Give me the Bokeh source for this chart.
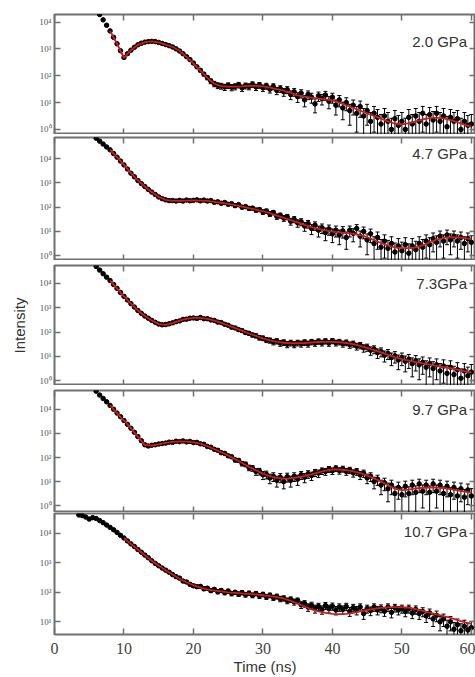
import math
from bokeh.plotting import figure
from bokeh.models import Range1d, FixedTicker, Label, LinearAxis, LogAxis, ColumnDataSource
from bokeh.layouts import column
from bokeh.embed import file_html
from bokeh.resources import INLINE

# ---------------- data (log10 intensity) ----------------
T = [3.5, 4.0, 4.5, 5.0, 5.5,
     6.0, 6.5, 7.0, 7.5, 8.0, 8.5, 9.0, 9.5, 10.0, 10.5,
     11.0, 11.5, 12.0, 12.5, 13.0, 13.5, 14.0, 14.5, 15.0, 15.5,
     16.0, 16.5, 17.0, 17.5, 18.0, 18.5, 19.0, 19.5, 20.0, 20.5,
     21.0, 21.5, 22.0, 22.5, 23.0, 23.5, 24.0, 24.5, 25.0, 25.5,
     26.0, 26.5, 27.0, 27.5, 28.0, 28.5, 29.0, 29.5, 30.0, 30.5,
     31.0, 31.5, 32.0, 32.5, 33.0, 33.5, 34.0, 34.5, 35.0, 35.5,
     36.0, 36.5, 37.0, 37.5, 38.0, 38.5, 39.0, 39.5, 40.0, 40.5,
     41.0, 41.5, 42.0, 42.5, 43.0, 43.5, 44.0, 44.5, 45.0, 45.5,
     46.0, 46.5, 47.0, 47.5, 48.0, 48.5, 49.0, 49.5, 50.0, 50.5,
     51.0, 51.5, 52.0, 52.5, 53.0, 53.5, 54.0, 54.5, 55.0, 55.5,
     56.0, 56.5, 57.0, 57.5, 58.0, 58.5, 59.0, 59.5, 60.0]

FIT_T = [8, 9, 10, 11, 12, 13, 14, 15, 16, 17,
         18, 19, 20, 21, 22, 23, 24, 25, 26, 27,
         28, 29, 30, 31, 32, 33, 34, 35, 36, 37,
         38, 39, 40, 41, 42, 43, 44, 45, 46, 47,
         48, 49, 50, 51, 52, 53, 54, 55, 56, 57,
         58, 59, 60]

LABELS = ["2.0 GPa", "4.7 GPa", "7.3GPa", "9.7 GPa", "10.7 GPa"]

DATA_1 = [4.45, 4.28, 4.08, 3.88, 3.67, 3.43, 3.19, 2.93, 2.68, 2.82,
          2.95, 3.06, 3.15, 3.21, 3.25, 3.27, 3.28, 3.27, 3.24, 3.2,
          3.16, 3.12, 3.07, 3.0, 2.92, 2.82, 2.71, 2.6, 2.47, 2.33,
          2.2, 2.06, 1.93, 1.8, 1.7, 1.64, 1.62, 1.58, 1.64, 1.57,
          1.6, 1.66, 1.55, 1.63, 1.6, 1.68, 1.58, 1.65, 1.55, 1.62,
          1.5, 1.6, 1.45, 1.52, 1.4, 1.48, 1.3, 1.4, 1.22, 1.35,
          1.1, 1.3, 1.2, 0.95, 1.25, 1.15, 1.28, 1.05, 1.2, 0.9,
          1.1, 0.8, 1.0, 0.7, 0.9, 0.6, 0.85, 0.5, 0.7, 0.3,
          0.6, 0.45, 0.2, 0.5, 0.3, 0.0, 0.4, 0.15, 0.3, 0.0,
          0.45, 0.2, 0.5, 0.3, 0.6, 0.2, 0.55, 0.35, 0.6, 0.3,
          0.5, 0.1, 0.45, 0.3, 0.4, 0.0, 0.3, 0.15, 0.2]
FIT_1 = [3.67, 3.19, 2.66, 2.95, 3.15, 3.25, 3.28, 3.24, 3.16, 3.07,
         2.93, 2.7, 2.46, 2.19, 1.92, 1.7, 1.61, 1.59, 1.59, 1.6,
         1.62, 1.62, 1.6, 1.56, 1.5, 1.44, 1.36, 1.27, 1.22, 1.18,
         1.15, 1.12, 1.08, 1.0, 0.9, 0.8, 0.7, 0.6, 0.5, 0.4,
         0.3, 0.22, 0.19, 0.23, 0.3, 0.37, 0.42, 0.44, 0.41, 0.35,
         0.27, 0.18, 0.1]

DATA_2 = [4.84, 4.72, 4.6, 4.48, 4.36, 4.21, 4.06, 3.9, 3.74, 3.57,
          3.4, 3.25, 3.1, 2.97, 2.85, 2.73, 2.62, 2.52, 2.42, 2.35,
          2.3, 2.27, 2.27, 2.25, 2.28, 2.25, 2.29, 2.26, 2.28, 2.3,
          2.26, 2.29, 2.25, 2.27, 2.2, 2.22, 2.16, 2.19, 2.12, 2.14,
          2.06, 2.1, 2.0, 2.02, 1.95, 1.96, 1.88, 1.9, 1.8, 1.84,
          1.72, 1.78, 1.62, 1.66, 1.55, 1.6, 1.42, 1.5, 1.35, 1.4,
          1.22, 1.32, 1.12, 1.25, 1.05, 1.15, 0.95, 1.1, 0.9, 1.05,
          0.85, 1.02, 0.75, 1.05, 0.92, 1.12, 0.8, 1.0, 0.65, 0.9,
          0.5, 0.75, 0.35, 0.6, 0.3, 0.5, 0.15, 0.4, 0.2, 0.45,
          0.1, 0.4, 0.25, 0.5, 0.35, 0.6, 0.45, 0.7, 0.55, 0.8,
          0.6, 0.85, 0.65, 0.8, 0.6, 0.75, 0.5, 0.7, 0.55]
FIT_2 = [4.36, 4.06, 3.74, 3.4, 3.1, 2.85, 2.62, 2.42, 2.3, 2.26,
         2.26, 2.27, 2.28, 2.27, 2.26, 2.22, 2.18, 2.13, 2.08, 2.02,
         1.96, 1.9, 1.83, 1.75, 1.65, 1.56, 1.46, 1.37, 1.27, 1.18,
         1.1, 1.04, 0.99, 0.96, 0.93, 0.9, 0.85, 0.76, 0.64, 0.52,
         0.41, 0.34, 0.31, 0.31, 0.34, 0.42, 0.55, 0.66, 0.73, 0.76,
         0.75, 0.72, 0.68]

DATA_3 = [4.7, 4.55, 4.4, 4.26, 4.12, 3.96, 3.8, 3.63, 3.47, 3.32,
          3.17, 3.03, 2.89, 2.77, 2.66, 2.57, 2.48, 2.4, 2.33, 2.3,
          2.31, 2.34, 2.38, 2.43, 2.46, 2.52, 2.53, 2.57, 2.58, 2.56,
          2.6, 2.55, 2.55, 2.5, 2.48, 2.41, 2.39, 2.32, 2.28, 2.2,
          2.17, 2.1, 2.06, 1.98, 1.95, 1.88, 1.85, 1.77, 1.75, 1.68,
          1.66, 1.6, 1.63, 1.55, 1.58, 1.5, 1.56, 1.5, 1.56, 1.52,
          1.58, 1.52, 1.6, 1.55, 1.62, 1.56, 1.63, 1.55, 1.64, 1.56,
          1.6, 1.52, 1.57, 1.48, 1.52, 1.42, 1.46, 1.35, 1.38, 1.25,
          1.3, 1.15, 1.2, 1.05, 1.12, 0.95, 1.02, 0.85, 0.95, 0.8,
          0.88, 0.7, 0.82, 0.65, 0.75, 0.55, 0.7, 0.5, 0.65, 0.4,
          0.6, 0.3, 0.55, 0.25, 0.45, 0.1, 0.4, 0.2, 0.35]
FIT_3 = [4.12, 3.8, 3.47, 3.17, 2.89, 2.66, 2.48, 2.33, 2.3, 2.37,
         2.47, 2.54, 2.58, 2.58, 2.54, 2.47, 2.38, 2.27, 2.16, 2.05,
         1.94, 1.84, 1.74, 1.66, 1.6, 1.56, 1.54, 1.54, 1.55, 1.57,
         1.59, 1.6, 1.6, 1.58, 1.55, 1.5, 1.43, 1.35, 1.26, 1.16,
         1.06, 0.97, 0.89, 0.82, 0.76, 0.71, 0.66, 0.61, 0.56, 0.51,
         0.45, 0.39, 0.33]

DATA_4 = [4.76, 4.6, 4.46, 4.32, 4.17, 4.01, 3.85, 3.7, 3.54, 3.38,
          3.22, 3.05, 2.87, 2.7, 2.53, 2.48, 2.51, 2.53, 2.56, 2.58,
          2.6, 2.64, 2.63, 2.68, 2.66, 2.69, 2.65, 2.67, 2.62, 2.63,
          2.57, 2.55, 2.46, 2.43, 2.34, 2.3, 2.2, 2.17, 2.07, 2.03,
          1.9, 1.88, 1.75, 1.72, 1.58, 1.56, 1.42, 1.43, 1.28, 1.3,
          1.15, 1.22, 1.05, 1.18, 1.0, 1.2, 1.05, 1.22, 1.1, 1.28,
          1.18, 1.32, 1.25, 1.38, 1.35, 1.45, 1.42, 1.52, 1.45, 1.55,
          1.46, 1.53, 1.42, 1.48, 1.36, 1.42, 1.28, 1.35, 1.15, 1.22,
          1.0, 1.1, 0.85, 0.95, 0.7, 0.85, 0.5, 0.75, 0.45, 0.8,
          0.5, 0.85, 0.55, 0.9, 0.6, 0.85, 0.55, 0.9, 0.6, 0.85,
          0.5, 0.8, 0.45, 0.75, 0.4, 0.7, 0.35, 0.65, 0.4]
FIT_4 = [4.17, 3.85, 3.54, 3.22, 2.87, 2.52, 2.5, 2.55, 2.61, 2.65,
         2.67, 2.66, 2.63, 2.58, 2.47, 2.35, 2.22, 2.09, 1.93, 1.77,
         1.61, 1.47, 1.33, 1.22, 1.15, 1.12, 1.13, 1.17, 1.23, 1.3,
         1.38, 1.45, 1.5, 1.5, 1.47, 1.42, 1.35, 1.25, 1.13, 1.0,
         0.85, 0.7, 0.64, 0.66, 0.71, 0.74, 0.75, 0.75, 0.73, 0.68,
         0.63, 0.58, 0.54]

DATA_5 = [4.62, 4.6, 4.55, 4.48, 4.53,
          4.5, 4.43, 4.36, 4.28, 4.2, 4.12, 4.03, 3.93, 3.84, 3.74,
          3.64, 3.55, 3.45, 3.36, 3.26, 3.17, 3.07, 2.98, 2.9, 2.82,
          2.75, 2.68, 2.6, 2.53, 2.48, 2.38, 2.35, 2.27, 2.22, 2.19,
          2.2, 2.12, 2.14, 2.06, 2.1, 2.02, 2.06, 1.99, 2.04, 1.96,
          2.0, 1.94, 1.99, 1.92, 1.97, 1.9, 1.96, 1.88, 1.93, 1.85,
          1.9, 1.82, 1.86, 1.78, 1.8, 1.72, 1.76, 1.68, 1.72, 1.58,
          1.62, 1.5, 1.56, 1.45, 1.52, 1.42, 1.55, 1.45, 1.53, 1.4,
          1.5, 1.42, 1.52, 1.36, 1.48, 1.4, 1.5, 1.28, 1.45, 1.38,
          1.5, 1.4, 1.46, 1.36, 1.5, 1.32, 1.48, 1.4, 1.45, 1.35,
          1.45, 1.3, 1.42, 1.28, 1.35, 1.2, 1.3, 1.1, 1.22, 1.0,
          1.1, 0.85, 1.0, 0.75, 0.9, 0.7, 0.85, 0.72, 0.8]
FIT_5 = [3.83, 3.64, 3.45, 3.26, 3.07, 2.9, 2.75, 2.6, 2.46, 2.34,
         2.24, 2.16, 2.1, 2.06, 2.03, 2.0, 1.98, 1.96, 1.95, 1.93,
         1.9, 1.87, 1.84, 1.79, 1.71, 1.62, 1.52, 1.42, 1.35, 1.3,
         1.27, 1.26, 1.27, 1.3, 1.35, 1.4, 1.44, 1.47, 1.49, 1.5,
         1.5, 1.48, 1.43, 1.37, 1.31, 1.25, 1.19, 1.13, 1.06, 0.99,
         0.93]

DATAS = [DATA_1, DATA_2, DATA_3, DATA_4, DATA_5]
FITS = [FIT_1, FIT_2, FIT_3, FIT_4, FIT_5]

X_TICKS = [0, 10, 20, 30, 40, 50, 60]
Y_TICKS = [1, 10, 100, 1000, 10000]
Y_TICK_LABELS = {1: "10\u2070", 10: "10\u00b9", 100: "10\u00b2", 1000: "10\u00b3", 10000: "10\u2074"}

# ---------------- layout / style ----------------
Y_LOG_RANGES = [(-0.19, 4.28), (-0.2, 4.87), (-0.2, 4.74), (-0.29, 4.79), (0.57, 4.67)]
HEIGHTS = [134, 126, 125, 127, 165]
TOP_BORDERS = [14, 3, 5, 5, 1]
BOTTOM_BORDERS = [0, 0, 0, 0, 41]
LABEL_Y = [3.27, 4.2, 4.0, 4.0, 4.05]

FRAME = "#707070"
RED = "#d21a1a"
x_range = Range1d(0, 60.6)


def style_ticks(ax):
    ax.axis_line_color = None
    ax.major_tick_line_color = FRAME
    ax.major_tick_line_width = 1.5
    ax.major_tick_in = 6
    ax.major_tick_out = 0
    ax.minor_tick_line_color = None


def hide_labels(ax, ticks):
    ax.major_label_overrides = {t: "" for t in ticks}
    ax.major_label_standoff = 0


figs = []
for i in range(5):
    lo, hi = Y_LOG_RANGES[i]
    p = figure(width=475, height=HEIGHTS[i], x_range=x_range,
               y_range=Range1d(10 ** lo, 10 ** hi), y_axis_type="log",
               x_axis_location=None, y_axis_location=None,
               output_backend="svg", toolbar_location=None,
               min_border_left=54, min_border_right=0,
               min_border_top=TOP_BORDERS[i], min_border_bottom=BOTTOM_BORDERS[i])
    p.grid.visible = False
    p.outline_line_color = FRAME
    p.outline_line_width = 2
    p.background_fill_color = "white"
    p.border_fill_color = "white"

    bottom = LinearAxis(ticker=FixedTicker(ticks=X_TICKS))
    above = LinearAxis(ticker=FixedTicker(ticks=X_TICKS))
    left = LogAxis(ticker=FixedTicker(ticks=Y_TICKS))
    right = LogAxis(ticker=FixedTicker(ticks=Y_TICKS))
    for ax in (bottom, above, left, right):
        style_ticks(ax)

    hide_labels(above, X_TICKS)
    hide_labels(right, Y_TICKS)

    left.major_label_overrides = Y_TICK_LABELS
    left.major_label_text_font = "Liberation Serif"
    left.major_label_text_font_size = "9px"
    left.major_label_text_color = "#555555"
    left.major_label_standoff = 3

    if i == 4:
        left.ticker = FixedTicker(ticks=Y_TICKS[1:])
        right.ticker = FixedTicker(ticks=Y_TICKS[1:])
        bottom.major_label_text_font = "Liberation Serif"
        bottom.major_label_text_font_size = "16px"
        bottom.major_label_text_color = "#444444"
        bottom.major_label_standoff = 8
        bottom.axis_label = "Time (ns)"
        bottom.axis_label_text_font = "Liberation Sans"
        bottom.axis_label_text_font_style = "normal"
        bottom.axis_label_text_font_size = "15px"
        bottom.axis_label_text_color = "#333333"
        bottom.axis_label_standoff = 1
    else:
        hide_labels(bottom, X_TICKS)

    if i == 2:
        left.axis_label = "Intensity"
        left.axis_label_text_font = "Liberation Sans"
        left.axis_label_text_font_style = "normal"
        left.axis_label_text_font_size = "15px"
        left.axis_label_text_color = "#333333"
        left.axis_label_standoff = 8

    p.add_layout(bottom, "below")
    p.add_layout(above, "above")
    p.add_layout(left, "left")
    p.add_layout(right, "right")

    vals = DATAS[i]
    t = T[len(T) - len(vals):]
    counts = [10 ** v for v in vals]
    errs = [math.sqrt(c) * 1.6 for c in counts]
    lows = [max(c - e, 1e-3) for c, e in zip(counts, errs)]
    highs = [c + e for c, e in zip(counts, errs)]
    src = ColumnDataSource(dict(t=t, y=counts, lo=lows, hi=highs))
    p.segment(x0="t", y0="lo", x1="t", y1="hi", source=src, line_color="black", line_width=1)
    p.scatter(x="t", y="hi", source=src, marker="dash", size=4, line_color="black", line_width=1)
    p.scatter(x="t", y="lo", source=src, marker="dash", size=4, line_color="black", line_width=1)
    p.scatter(x="t", y="y", source=src, marker="circle", size=4.5, fill_color="black", line_color="black")

    fv = FITS[i]
    ft = FIT_T[len(FIT_T) - len(fv):]
    p.line(x=ft, y=[10 ** v for v in fv], line_color=RED, line_width=1.8)

    p.add_layout(Label(x=59.4, y=10 ** LABEL_Y[i], text=LABELS[i], text_align="right",
                       text_baseline="middle", text_font="Liberation Sans",
                       text_font_size="15px", text_color="#333333"))
    figs.append(p)

layout = column(*figs, spacing=0)
open("out.html", "w").write(file_html(layout, INLINE))
